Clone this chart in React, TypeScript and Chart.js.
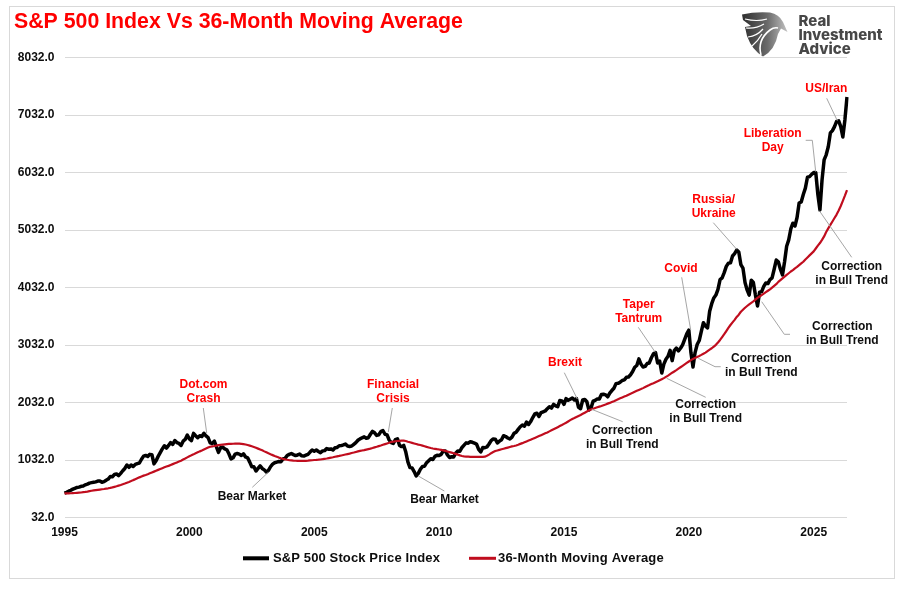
import React, { useEffect, useRef } from "react";
import { Chart, registerables } from "chart.js";

Chart.register(...registerables);

const firstYear = 1995;
const lastYear = 2026;
const lastMonth = 5;
const months: string[] = [];
for (let y = firstYear; y <= lastYear; y++) {
  for (let m = 1; m <= 12; m++) {
    if (y === lastYear && m > lastMonth) break;
    months.push(`${y}-${String(m).padStart(2, "0")}`);
  }
}

const sp500: number[] = [
  /*1995*/ 455, 470, 490, 505, 525, 540, 555, 560, 575, 580, 600, 612,
  /*1996*/ 630, 638, 645, 652, 665, 668, 645, 655, 680, 700, 745, 742,
  /*1997*/ 780, 790, 760, 800, 845, 885, 945, 905, 945, 920, 955, 970,
  /*1998*/ 980, 1045, 1100, 1112, 1095, 1130, 1125, 965, 1020, 1095, 1160, 1225,
  /*1999*/ 1280, 1240, 1285, 1335, 1305, 1370, 1335, 1320, 1285, 1360, 1390, 1465,
  /*2000*/ 1400, 1370, 1495, 1455, 1420, 1455, 1440, 1496, 1450, 1420, 1330, 1320,
  /*2001*/ 1360, 1260, 1164, 1245, 1255, 1225, 1210, 1140, 1050, 1070, 1135, 1145,
  /*2002*/ 1135, 1110, 1140, 1085, 1070, 995, 915, 915, 840, 885, 930, 885,
  /*2003*/ 860, 823, 850, 915, 960, 985, 995, 1005, 1000, 1050, 1060, 1110,
  /*2004*/ 1130, 1145, 1125, 1110, 1120, 1135, 1105, 1100, 1115, 1130, 1170, 1205,
  /*2005*/ 1185, 1205, 1180, 1160, 1190, 1195, 1230, 1220, 1225, 1205, 1245, 1250,
  /*2006*/ 1280, 1282, 1295, 1310, 1275, 1268, 1275, 1305, 1335, 1375, 1400, 1418,
  /*2007*/ 1435, 1410, 1420, 1480, 1530, 1505, 1460, 1470, 1525, 1545, 1480, 1470,
  /*2008*/ 1380, 1335, 1320, 1385, 1400, 1285, 1265, 1285, 1170, 1000, 900, 895,
  /*2009*/ 830, 754, 800, 870, 920, 925, 985, 1020, 1055, 1040, 1095, 1115,
  /*2010*/ 1110, 1130, 1190, 1190, 1120, 1075, 1090, 1085, 1150, 1190, 1185, 1250,
  /*2011*/ 1290, 1330, 1325, 1350, 1340, 1325, 1310, 1215, 1171, 1250, 1245, 1260,
  /*2012*/ 1310, 1370, 1397, 1395, 1327, 1360, 1385, 1455, 1440, 1415, 1397, 1430,
  /*2013*/ 1495, 1515, 1565, 1610, 1640, 1620, 1690, 1650, 1700, 1770, 1832, 1845,
  /*2014*/ 1790, 1855, 1870, 1885, 1925, 1959, 1935, 2000, 1975, 1959, 2065, 2060,
  /*2015*/ 2000, 2100, 2070, 2090, 2110, 2075, 2100, 1948, 1925, 2075, 2085, 2045,
  /*2016*/ 1901, 1935, 2055, 2070, 2095, 2095, 2170, 2175, 2165, 2130, 2195, 2240,
  /*2017*/ 2280, 2360, 2365, 2385, 2415, 2425, 2470, 2475, 2515, 2570, 2645, 2675,
  /*2018*/ 2790, 2700, 2650, 2660, 2710, 2720, 2810, 2880, 2900, 2720, 2750, 2545,
  /*2019*/ 2700, 2785, 2835, 2940, 2760, 2935, 2980, 2930, 2975, 3035, 3130, 3225,
  /*2020*/ 3290, 2900, 2650, 2900, 3040, 3110, 3270, 3420, 3360, 3330, 3620, 3750,
  /*2021*/ 3850, 3900, 4000, 4170, 4200, 4290, 4400, 4455, 4460, 4580, 4620, 4684,
  /*2022*/ 4650, 4430, 4370, 4120, 3990, 3900, 4160, 4120, 3900, 3710, 3950, 3960,
  /*2023*/ 4050, 4110, 4100, 4170, 4200, 4350, 4510, 4480, 4350, 4250, 4480, 4750,
  /*2024*/ 4860, 5050, 5150, 5100, 5250, 5500, 5520, 5650, 5760, 5950, 5960, 6000,
  /*2025*/ 6030, 6030, 5650, 5380, 5900, 6250, 6340, 6480, 6720, 6760, 6830, 6920,
  /*2026*/ 6930, 6830, 6650, 6950, 7345,
];

const movingAverage: number[] = [
  /*1995*/ 450, 451, 452, 454, 456, 458, 461, 464, 467, 472, 477, 483,
  /*1996*/ 490, 497, 503, 508, 513, 518, 523, 528, 534, 540, 547, 555,
  /*1997*/ 565, 575, 587, 598, 610, 622, 637, 650, 665, 682, 698, 714,
  /*1998*/ 730, 745, 760, 772, 785, 800, 815, 830, 845, 860, 875, 890,
  /*1999*/ 905, 918, 930, 945, 960, 975, 990, 1005, 1020, 1040, 1058, 1078,
  /*2000*/ 1098, 1113, 1130, 1148, 1165, 1182, 1198, 1215, 1232, 1248, 1263, 1270,
  /*2001*/ 1275, 1283, 1290, 1296, 1301, 1305, 1309, 1312, 1314, 1315, 1316, 1316,
  /*2002*/ 1316, 1312, 1307, 1302, 1292, 1282, 1270, 1258, 1245, 1230, 1215, 1200,
  /*2003*/ 1182, 1165, 1148, 1132, 1117, 1102, 1088, 1074, 1062, 1052, 1043, 1036,
  /*2004*/ 1030, 1026, 1022, 1019, 1017, 1016, 1016, 1017, 1018, 1020, 1024, 1028,
  /*2005*/ 1032, 1034, 1037, 1041, 1046, 1052, 1058, 1065, 1072, 1080, 1089, 1096,
  /*2006*/ 1103, 1111, 1119, 1127, 1135, 1143, 1153, 1162, 1172, 1182, 1190, 1198,
  /*2007*/ 1205, 1213, 1221, 1229, 1240, 1252, 1262, 1273, 1284, 1296, 1308, 1320,
  /*2008*/ 1332, 1345, 1352, 1358, 1362, 1365, 1368, 1368, 1362, 1350, 1340, 1330,
  /*2009*/ 1320, 1310, 1300, 1292, 1282, 1272, 1260, 1250, 1240, 1232, 1226, 1220,
  /*2010*/ 1215, 1208, 1200, 1190, 1180, 1170, 1160, 1150, 1138, 1125, 1112, 1102,
  /*2011*/ 1096, 1092, 1090, 1088, 1087, 1086, 1085, 1085, 1085, 1086, 1090, 1105,
  /*2012*/ 1125, 1150, 1170, 1188, 1198, 1208, 1218, 1228, 1238, 1248, 1258, 1268,
  /*2013*/ 1276, 1285, 1298, 1312, 1325, 1340, 1355, 1370, 1385, 1400, 1416, 1432,
  /*2014*/ 1448, 1464, 1480, 1496, 1512, 1530, 1548, 1566, 1585, 1603, 1622, 1640,
  /*2015*/ 1660, 1680, 1702, 1725, 1745, 1762, 1780, 1798, 1815, 1835, 1855, 1875,
  /*2016*/ 1895, 1910, 1922, 1935, 1948, 1960, 1972, 1985, 1998, 2012, 2025, 2040,
  /*2017*/ 2055, 2072, 2088, 2104, 2120, 2135, 2150, 2168, 2185, 2200, 2218, 2235,
  /*2018*/ 2250, 2265, 2282, 2300, 2319, 2335, 2352, 2368, 2385, 2402, 2420, 2438,
  /*2019*/ 2456, 2478, 2500, 2525, 2550, 2572, 2595, 2620, 2645, 2670, 2695, 2720,
  /*2020*/ 2745, 2768, 2790, 2808, 2825, 2842, 2860, 2880, 2900, 2925, 2950, 2975,
  /*2021*/ 3005, 3035, 3075, 3120, 3170, 3220, 3275, 3330, 3380, 3425, 3470, 3520,
  /*2022*/ 3560, 3610, 3645, 3680, 3710, 3740, 3765, 3790, 3820, 3850, 3875, 3900,
  /*2023*/ 3925, 3950, 3975, 4000, 4030, 4060, 4090, 4130, 4160, 4190, 4220, 4250,
  /*2024*/ 4280, 4310, 4335, 4365, 4390, 4420, 4450, 4480, 4520, 4555, 4590, 4625,
  /*2025*/ 4660, 4710, 4760, 4805, 4860, 4920, 4996, 5060, 5120, 5180, 5240, 5300,
  /*2026*/ 5370, 5450, 5540, 5630, 5727,
];

const seriesNames = ["S&P 500 Stock Price Index", "36-Month Moving Average"];
const yMin = 32;
const yMax = 8032;
const yStep = 1000;

type Note = {
  lines: string[];
  cx: number;
  ys: number[];
  color: string;
  leader: number[][];
};
const RED = "#ff0000";
const INK = "#0d0d0d";
const corr = ["Correction", "in Bull Trend"];
const notes: Note[] = [
  { lines: ["Dot.com", "Crash"], cx: 203.5, ys: [385, 399], color: RED, leader: [[203.3, 408], [206.7, 433]] },
  { lines: ["Financial", "Crisis"], cx: 393, ys: [385, 399], color: RED, leader: [[392.3, 408], [388.3, 432]] },
  { lines: ["Bear Market"], cx: 252, ys: [497], color: INK, leader: [[252.3, 487.3], [268.3, 472.3]] },
  { lines: ["Bear Market"], cx: 444.5, ys: [500], color: INK, leader: [[418.3, 476], [444.3, 491]] },
  { lines: ["Brexit"], cx: 565, ys: [363], color: RED, leader: [[564.3, 372.7], [577.3, 399]] },
  { lines: ["Taper", "Tantrum"], cx: 638.7, ys: [305, 319], color: RED, leader: [[638.3, 327.3], [655.3, 352.3]] },
  { lines: ["Covid"], cx: 681, ys: [269], color: RED, leader: [[681.7, 277.3], [690.7, 330]] },
  { lines: ["Russia/", "Ukraine"], cx: 713.7, ys: [200, 214], color: RED, leader: [[713.3, 222.7], [736.7, 249.3]] },
  { lines: ["Liberation", "Day"], cx: 772.7, ys: [134, 148], color: RED, leader: [[805.7, 140.3], [812.3, 140.3], [815.7, 171.7]] },
  { lines: ["US/Iran"], cx: 826.3, ys: [89], color: RED, leader: [[826.7, 98.3], [837.3, 120.7]] },
  { lines: corr, cx: 851.7, ys: [267, 281], color: INK, leader: [[819.3, 210.7], [851.7, 257.3]] },
  { lines: corr, cx: 842.3, ys: [327, 341], color: INK, leader: [[761.7, 301.7], [784.3, 334.3], [790, 334.3]] },
  { lines: corr, cx: 761.3, ys: [359, 373], color: INK, leader: [[698.3, 358.3], [715, 366.7], [720.7, 366.7]] },
  { lines: corr, cx: 705.7, ys: [405, 419], color: INK, leader: [[666.7, 378.3], [705.7, 397.3]] },
  { lines: corr, cx: 622.3, ys: [431, 445], color: INK, leader: [[591.7, 409.3], [622.7, 421.7]] },
];

const FONT = '"Liberation Sans", Arial, sans-serif';

function drawLogo(ctx: CanvasRenderingContext2D) {
  ctx.save();
  const g = ctx.createLinearGradient(742, 30, 788, 30);
  g.addColorStop(0, "#2e2e2e");
  g.addColorStop(0.55, "#6a6a6a");
  g.addColorStop(1, "#c4c4c4");
  ctx.fillStyle = g;
  ctx.beginPath();
  ctx.moveTo(742, 14.5);
  ctx.quadraticCurveTo(755, 11.5, 770, 12.5);
  ctx.quadraticCurveTo(779, 14, 783, 22);
  ctx.lineTo(787.5, 32);
  ctx.lineTo(781, 28.5);
  ctx.lineTo(778, 34);
  ctx.quadraticCurveTo(775, 50, 763, 56.5);
  ctx.quadraticCurveTo(752, 50, 747, 36);
  ctx.lineTo(745, 27);
  ctx.lineTo(751, 26);
  ctx.lineTo(743, 20);
  ctx.closePath();
  ctx.fill();
  ctx.strokeStyle = "#ffffff";
  ctx.lineWidth = 1.2;
  ctx.beginPath();
  ctx.moveTo(745, 19);
  ctx.quadraticCurveTo(757, 22, 767, 19);
  ctx.moveTo(746, 28);
  ctx.quadraticCurveTo(756, 29, 764, 24);
  ctx.moveTo(748, 37);
  ctx.quadraticCurveTo(757, 36, 763, 29);
  ctx.moveTo(752, 46);
  ctx.quadraticCurveTo(758, 41, 762, 34);
  ctx.stroke();
  ctx.lineWidth = 1.6;
  ctx.beginPath();
  ctx.moveTo(761, 55);
  ctx.quadraticCurveTo(757, 40, 770, 30);
  ctx.quadraticCurveTo(774, 27, 778, 28);
  ctx.stroke();
  ctx.fillStyle = "#474747";
  ctx.font = "800 15px Inter, sans-serif";
  ctx.textAlign = "left";
  ctx.textBaseline = "middle";
  ctx.fillText("Real", 798.5, 21.5);
  ctx.fillText("Investment", 798.5, 35.5);
  ctx.fillText("Advice", 798.5, 49.5);
  ctx.restore();
}

const legendSlots = [
  { lineFrom: 243, lineTo: 269, textX: 273, thick: 4, spacing: "0.12px" },
  { lineFrom: 469, lineTo: 496, textX: 498, thick: 3, spacing: "0.2px" },
];

const decorations = {
  id: "decorations",
  beforeDraw(chart: Chart) {
    const ctx = chart.ctx;
    ctx.save();
    ctx.fillStyle = "#ffffff";
    ctx.fillRect(0, 0, chart.width, chart.height);
    ctx.strokeStyle = "#d9d9d9";
    ctx.lineWidth = 1;
    ctx.strokeRect(9.5, 6.5, 885, 572);
    ctx.fillStyle = RED;
    ctx.font = `bold 21.3px ${FONT}`;
    ctx.textAlign = "left";
    ctx.textBaseline = "middle";
    ctx.fillText("S&P 500 Index Vs 36-Month Moving Average", 14, 22);
    ctx.restore();
    drawLogo(ctx);
  },
  afterDraw(chart: Chart) {
    const ctx = chart.ctx;
    ctx.save();
    ctx.lineWidth = 1;
    ctx.strokeStyle = "#a6a6a6";
    for (const n of notes) {
      ctx.beginPath();
      n.leader.forEach(([x, y], i) => (i ? ctx.lineTo(x, y) : ctx.moveTo(x, y)));
      ctx.stroke();
    }
    ctx.font = `bold 12px ${FONT}`;
    ctx.textAlign = "center";
    ctx.textBaseline = "middle";
    for (const n of notes) {
      ctx.fillStyle = n.color;
      n.lines.forEach((t, i) => ctx.fillText(t, n.cx, n.ys[i]));
    }
    // legend, taken from the datasets
    ctx.textAlign = "left";
    ctx.font = `bold 13px ${FONT}`;
    chart.data.datasets.forEach((ds: any, i: number) => {
      const s = legendSlots[i];
      (ctx as any).letterSpacing = s.spacing;
      ctx.fillStyle = ds.borderColor;
      ctx.fillRect(s.lineFrom, 558.3 - s.thick / 2, s.lineTo - s.lineFrom, s.thick);
      ctx.fillStyle = "#0d0d0d";
      ctx.fillText(ds.label, s.textX, 558.6);
    });
    ctx.restore();
  },
};

export default function App() {
  const ref = useRef<HTMLCanvasElement | null>(null);
  useEffect(() => {
    if (!ref.current) return;
    const chart = new Chart(ref.current, {
      type: "line",
      data: {
        labels: months,
        datasets: [
          {
            label: seriesNames[0],
            data: sp500,
            borderColor: "#000000",
            backgroundColor: "#000000",
            borderWidth: 3.5,
            pointRadius: 0,
            tension: 0,
            borderJoinStyle: "round",
            order: 2,
          },
          {
            label: seriesNames[1],
            data: movingAverage,
            borderColor: "#c00d1e",
            backgroundColor: "#c00d1e",
            borderWidth: 2.2,
            pointRadius: 0,
            tension: 0,
            borderJoinStyle: "round",
            order: 1,
          },
        ],
      },
      plugins: [decorations],
      options: {
        responsive: false,
        animation: false,
        devicePixelRatio: 1,
        layout: { padding: { left: 0, right: 60, top: 57.5, bottom: 48.5 } },
        plugins: {
          title: { display: false },
          tooltip: { enabled: false },
          legend: { display: false },
        },
        scales: {
          x: {
            type: "category",
            offset: false,
            afterFit(scale: any) {
              scale.height = 24;
            },
            grid: { display: false, drawTicks: false },
            border: { display: false },
            ticks: {
              autoSkip: false,
              maxRotation: 0,
              minRotation: 0,
              padding: 8,
              color: "#0d0d0d",
              font: { family: FONT, size: 12, weight: "bold" },
              callback(_v: any, i: number) {
                const [y, m] = months[i].split("-");
                return m === "01" && Number(y) % 5 === 0 ? y : "";
              },
            },
          },
          y: {
            min: yMin,
            max: yMax,
            afterFit(scale: any) {
              scale.width = 64.5;
            },
            grid: { color: "#d9d9d9", lineWidth: 1, drawTicks: false },
            border: { display: false },
            ticks: {
              stepSize: yStep,
              padding: 10,
              color: "#0d0d0d",
              font: { family: FONT, size: 12, weight: "bold" },
              callback(v: any) {
                return Number(v).toFixed(1);
              },
            },
          },
        },
      },
    });
    return () => chart.destroy();
  }, []);
  return (
    <canvas
      ref={ref}
      width={907}
      height={590}
      style={{ position: "absolute", left: 0, top: 0, display: "block", width: 907, height: 590 }}
    />
  );
}
